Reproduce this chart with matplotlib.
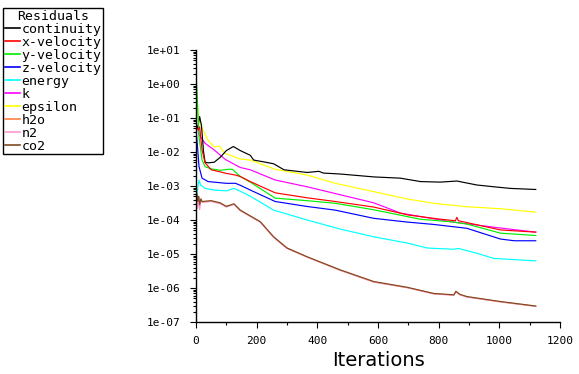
import matplotlib
matplotlib.use("Agg")
import matplotlib.pyplot as plt
from matplotlib.ticker import LogLocator, MultipleLocator, FuncFormatter, NullFormatter

# ---- data ----
cont_it = [0, 5, 12, 18, 25, 30, 40, 60, 80, 100, 123, 146, 179, 190, 230, 256, 290, 366, 405, 420, 476, 586, 674, 740, 805, 860, 926, 981, 1036, 1120]
cont_v = [6e-2, 5e-2, 1.1e-1, 6e-2, 1e-2, 5e-3, 4.8e-3, 5e-3, 7e-3, 1.1e-2, 1.45e-2, 1.1e-2, 8e-3, 5.8e-3, 5e-3, 4.5e-3, 3e-3, 2.5e-3, 2.7e-3, 2.4e-3, 2.25e-3, 1.85e-3, 1.7e-3, 1.35e-3, 1.3e-3, 1.4e-3, 1.07e-3, 9.5e-4, 8.5e-4, 7.9e-4]

xvel_it = [0, 3, 8, 12, 20, 30, 50, 80, 100, 130, 146, 179, 261, 366, 459, 586, 700, 800, 855, 860, 865, 1004, 1120]
xvel_v = [6e-2, 5e-2, 4.5e-2, 5.5e-2, 1.15e-2, 4.8e-3, 3e-3, 2.6e-3, 2.35e-3, 2.1e-3, 1.9e-3, 1.35e-3, 6.3e-4, 4.5e-4, 3.5e-4, 2.4e-4, 1.4e-4, 1.07e-4, 9.5e-5, 1.2e-4, 9.5e-5, 5.1e-5, 4.4e-5]

yvel_it = [0, 2, 5, 10, 20, 30, 50, 80, 107, 120, 146, 179, 261, 366, 459, 586, 740, 839, 893, 1004, 1120]
yvel_v = [1.6, 1.0, 2.7e-1, 2.8e-2, 5.8e-3, 3.7e-3, 3.2e-3, 2.9e-3, 3.1e-3, 3.1e-3, 1.9e-3, 1.3e-3, 4.4e-4, 3.7e-4, 3.1e-4, 2e-4, 1.05e-4, 8.9e-5, 7.6e-5, 4.1e-5, 3.5e-5]

zvel_it = [0, 5, 10, 20, 40, 100, 130, 146, 179, 261, 366, 459, 586, 696, 784, 893, 1004, 1050, 1120]
zvel_v = [4.5e-2, 1.4e-2, 3.7e-3, 1.7e-3, 1.35e-3, 1.2e-3, 1.2e-3, 1.05e-3, 7.6e-4, 3.5e-4, 2.5e-4, 1.95e-4, 1.12e-4, 8.7e-5, 7.4e-5, 5.7e-5, 2.75e-5, 2.45e-5, 2.45e-5]

energy_it = [0, 5, 10, 15, 30, 60, 100, 125, 146, 179, 256, 366, 476, 586, 696, 762, 850, 866, 926, 982, 1120]
energy_v = [3e-4, 8e-4, 1.5e-3, 1.07e-3, 8.5e-4, 7.6e-4, 7.2e-4, 8.5e-4, 7e-4, 5e-4, 1.95e-4, 1e-4, 5.4e-5, 3.2e-5, 2.1e-5, 1.5e-5, 1.38e-5, 1.45e-5, 1.05e-5, 7.4e-6, 6.3e-6]

k_it = [0, 5, 10, 30, 60, 97, 146, 179, 261, 366, 459, 586, 674, 839, 1004, 1120]
k_v = [6e-2, 5.6e-2, 3.2e-2, 1.8e-2, 1.15e-2, 6e-3, 3.5e-3, 3e-3, 1.5e-3, 9.5e-4, 6e-4, 3.2e-4, 1.6e-4, 8.9e-5, 5.8e-5, 4.4e-5]

eps_it = [0, 3, 6, 10, 20, 40, 60, 75, 97, 146, 179, 261, 366, 459, 586, 700, 784, 893, 1004, 1120]
eps_v = [1.0, 5e-1, 1.4e-1, 8.7e-2, 5e-2, 2.2e-2, 1.4e-2, 1.5e-2, 9.1e-3, 6.2e-3, 5.8e-3, 3.1e-3, 2.1e-3, 1.2e-3, 6.8e-4, 4.1e-4, 3.1e-4, 2.45e-4, 2.15e-4, 1.7e-4]

co2_it = [0, 3, 6, 9, 12, 16, 20, 50, 80, 100, 125, 146, 212, 256, 300, 366, 476, 586, 696, 784, 850, 857, 870, 893, 1004, 1120]
co2_v = [3e-4, 6e-4, 3.5e-4, 5e-4, 2.8e-4, 4.2e-4, 3.5e-4, 3.7e-4, 3.2e-4, 2.5e-4, 3e-4, 1.95e-4, 8.9e-5, 3.2e-5, 1.5e-5, 8.3e-6, 3.4e-6, 1.55e-6, 1.05e-6, 6.9e-7, 6.3e-7, 8e-7, 6.5e-7, 5.6e-7, 4e-7, 2.95e-7]

h2o_v = [3e-4, 5.5e-4, 3.4e-4, 4.8e-4, 2.8e-4, 4e-4, 3.4e-4, 3.6e-4, 3.1e-4, 2.5e-4, 2.9e-4, 1.9e-4, 8.7e-5, 3.1e-5, 1.5e-5, 8.2e-6, 3.3e-6, 1.5e-6, 1.03e-6, 6.8e-7, 6.2e-7, 7.8e-7, 6.4e-7, 5.5e-7, 3.9e-7, 2.9e-7]
n2_v = [2.2e-4, 5e-4, 2.2e-4, 4.5e-4, 2e-4, 3.8e-4, 3.3e-4, 3.5e-4, 3e-4, 2.4e-4, 2.9e-4, 1.9e-4, 8.6e-5, 3.1e-5, 1.45e-5, 8.1e-6, 3.3e-6, 1.5e-6, 1.02e-6, 6.7e-7, 6.1e-7, 7.7e-7, 6.3e-7, 5.4e-7, 3.9e-7, 2.9e-7]

labels = ["continuity", "x-velocity", "y-velocity", "z-velocity", "energy", "k", "epsilon", "h2o", "n2", "co2"]
colors = ["#000000", "#ff0000", "#00ee00", "#0000ff", "#00ffff", "#ff00ff", "#ffff00", "#ff8040", "#ff99cc", "#7f4a1e"]
series = [
    (cont_it, cont_v), (xvel_it, xvel_v), (yvel_it, yvel_v), (zvel_it, zvel_v),
    (energy_it, energy_v), (k_it, k_v), (eps_it, eps_v),
    (co2_it, h2o_v), (co2_it, n2_v), (co2_it, co2_v),
]
ytick_vals = [1e1, 1e0, 1e-1, 1e-2, 1e-3, 1e-4, 1e-5, 1e-6, 1e-7]
xtick_vals = [0, 200, 400, 600, 800, 1000, 1200]

# ---- figure ----
fig = plt.figure(figsize=(5.79, 3.74), dpi=100)
ax = fig.add_axes([196 / 579, 1 - 322 / 374, 364 / 579, 272 / 374])

draw_order = [6, 5, 0, 4, 3, 2, 1, 7, 8, 9]
hmap = {}
for i in draw_order:
    it, v = series[i]
    (h,) = ax.plot(it, v, color=colors[i], lw=0.85, label=labels[i])
    hmap[i] = h
handles = [hmap[i] for i in range(len(labels))]

ax.set_yscale("log")
ax.set_ylim(1e-7, 1e1)
ax.set_xlim(0, 1200)
ax.set_yticks(ytick_vals)
ax.yaxis.set_major_formatter(FuncFormatter(lambda v, p: "{:.0e}".format(v)))
ax.yaxis.set_minor_locator(LogLocator(base=10, subs=[2, 3, 4, 5, 6, 7, 8, 9]))
ax.yaxis.set_minor_formatter(NullFormatter())
ax.set_xticks(xtick_vals)
ax.xaxis.set_minor_locator(MultipleLocator(100))

for s in ["top", "right"]:
    ax.spines[s].set_visible(False)
for s in ["left", "bottom"]:
    ax.spines[s].set_linewidth(1.0)

ax.tick_params(axis="y", which="major", direction="out", length=4, width=0.8, pad=7)
ax.tick_params(axis="x", which="major", direction="out", length=4, width=0.8, pad=6)
ax.tick_params(axis="both", which="minor", direction="out", length=2, width=0.8)
for lab in ax.get_xticklabels() + ax.get_yticklabels():
    lab.set_fontfamily("DejaVu Sans Mono")
    lab.set_fontsize(8)

ax.set_xlabel("Iterations", fontsize=14, family="DejaVu Sans", labelpad=4)

leg = fig.legend(handles, labels, loc="upper left", bbox_to_anchor=(3 / 579, 1 - 8 / 374),
                 title="Residuals", prop={"family": "DejaVu Sans Mono", "size": 9.5},
                 title_fontproperties={"family": "DejaVu Sans Mono", "size": 9.5},
                 frameon=True, fancybox=False, handlelength=1.2, handletextpad=0.1,
                 labelspacing=0.0, borderpad=0.12, borderaxespad=0, framealpha=1)
leg.get_frame().set_edgecolor("black")
leg.get_frame().set_linewidth(1.0)
for line in leg.get_lines():
    line.set_linewidth(1.2)

fig.savefig("out.png", dpi=100)
